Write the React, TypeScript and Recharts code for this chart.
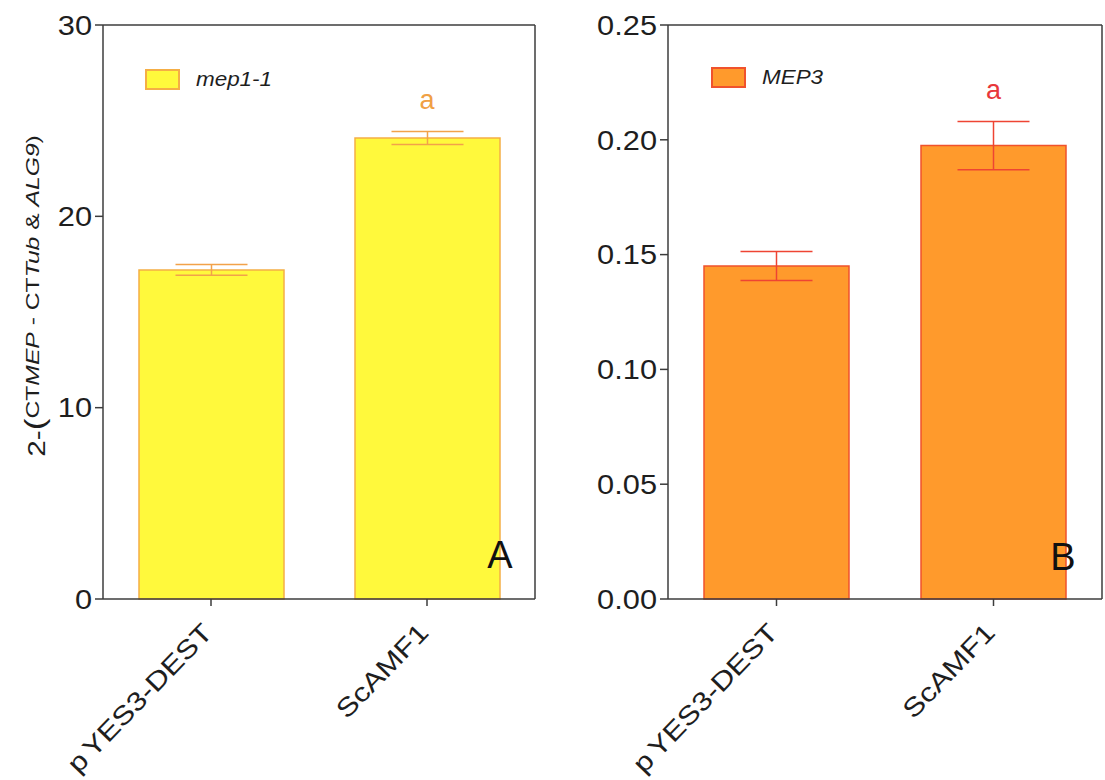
import React from 'react';
import { BarChart, Bar, XAxis, YAxis, ErrorBar, Legend, ReferenceDot, CartesianGrid } from 'recharts';

const categories = ['pYES3-DEST', 'ScAMF1'];
const mep11Values = [17.2, 24.1];
const mep11Errors = [0.28, 0.34];
const mep3Values = [0.145, 0.1975];
const mep3Errors = [0.0063, 0.0105];
const sigLetters = ['', 'a'];
const ticksA = [0, 10, 20, 30];
const ticksB = [0, 0.05, 0.1, 0.15, 0.2, 0.25];
const seriesNameA = 'mep1-1';
const seriesNameB = 'MEP3';

const dataA = categories.map((c, i) => ({ name: c, value: mep11Values[i], err: mep11Errors[i] }));
const dataB = categories.map((c, i) => ({ name: c, value: mep3Values[i], err: mep3Errors[i] }));

const FONT = '"Liberation Sans", Arial, Helvetica, sans-serif';
const AXIS = '#3c3c3c';
const TEXT = '#1e1e1e';

const YTick = (props: any) => {
  const { x, y, payload, fmt } = props;
  return (
    <g transform={`translate(${x},${y})`}>
      <text transform="scale(1.14,1)" textAnchor="end" dy="0.36em" fontSize={27} fill={TEXT} fontFamily={FONT}>
        {fmt(payload.value)}
      </text>
    </g>
  );
};

const XTick = (props: any) => {
  const { x, y, payload } = props;
  const label: string = String(payload.value);
  const first = label.startsWith('p') ? 'p' : '';
  const rest = first ? label.slice(1) : label;
  return (
    <g transform={`translate(${x + 3},${y + 26})`}>
      <text transform="rotate(-46) scale(1.2,1)" textAnchor="end" fontSize={26} fill={TEXT} fontFamily={FONT}>
        {first ? <tspan>{first}</tspan> : null}
        <tspan dx={first ? 4 : 0}>{rest}</tspan>
      </text>
    </g>
  );
};

const YLabelA = (props: any) => {
  const vb = props.viewBox || { x: 13, y: 25, width: 90, height: 574 };
  const cx = vb.x + 32;
  const cy = vb.y + vb.height / 2 - 16;
  return (
    <text transform={`translate(${cx},${cy}) rotate(-90) scale(1.3,1)`} textAnchor="middle" fill={TEXT} fontFamily={FONT} fontSize={22}>
      <tspan fontSize={23}>2-</tspan>
      <tspan fontSize={27} dy={-1}>(</tspan>
      <tspan fontSize={19} dy={-5}>
        CT<tspan fontStyle="italic">MEP</tspan> - CT<tspan fontStyle="italic">Tub</tspan> &amp; <tspan fontStyle="italic">ALG9</tspan>)
      </tspan>
    </text>
  );
};

const makeLegend = (fill: string, stroke: string) => (props: any) => {
  const p = props.payload && props.payload[0];
  return (
    <div style={{ display: 'flex', alignItems: 'center', fontFamily: FONT }}>
      <div style={{ width: 31, height: 17, background: fill, border: `2px solid ${stroke}` }} />
      <span style={{ marginLeft: 16, fontStyle: 'italic', fontSize: 19.5, color: TEXT, display: 'inline-block', transform: 'scale(1.15,1)', transformOrigin: 'left center' }}>
        {p ? p.value : ''}
      </span>
    </div>
  );
};

const sigLabel = (color: string, letter: string) => (props: any) => {
  const vb = props.viewBox || { x: 0, y: 0 };
  return (
    <text x={vb.x} y={vb.y - 22} textAnchor="middle" fontSize={27} fill={color} fontFamily={FONT}>
      {letter}
    </text>
  );
};

type PanelProps = {
  data: any[];
  values: number[];
  errors: number[];
  ticks: number[];
  fmt: (v: number) => string;
  name: string;
  fill: string;
  stroke: string;
  errColor: string;
  sigColor: string;
  width: number;
  margin: any;
  withYLabel: boolean;
  legendLeft: number;
  legendTop: number;
};

const Panel = (p: PanelProps) => {
  const max = p.ticks[p.ticks.length - 1];
  return (
    <BarChart width={p.width} height={780} data={p.data} margin={p.margin}>
      <CartesianGrid
        stroke={AXIS}
        strokeWidth={1.5}
        horizontalCoordinatesGenerator={(g: any) => [g.offset.top]}
        verticalCoordinatesGenerator={(g: any) => [g.offset.left + g.offset.width]}
      />
      <XAxis
        dataKey="name"
        stroke={AXIS}
        strokeWidth={1.5}
        tickSize={7}
        tickLine={{ stroke: AXIS, strokeWidth: 1.5 }}
        height={170}
        interval={0}
        tick={(tp: any) => <XTick {...tp} />}
      />
      <YAxis
        domain={[0, max]}
        ticks={p.ticks}
        width={90}
        stroke={AXIS}
        strokeWidth={1.5}
        tickSize={8}
        tickMargin={3}
        tickLine={{ stroke: AXIS, strokeWidth: 1.5 }}
        interval={0}
        tick={(tp: any) => <YTick {...tp} fmt={p.fmt} />}
        label={p.withYLabel ? (lp: any) => <YLabelA {...lp} /> : undefined}
      />
      <Legend
        layout="vertical"
        align="center"
        verticalAlign="middle"
        wrapperStyle={{ left: p.legendLeft, top: p.legendTop, width: 200, height: 24 }}
        content={makeLegend(p.fill, p.stroke)}
      />
      <Bar dataKey="value" name={p.name} fill={p.fill} stroke={p.stroke} strokeWidth={1.5} barSize={145} isAnimationActive={false}>
        <ErrorBar dataKey="err" width={36} stroke={p.errColor} strokeWidth={1.5} direction="y" />
      </Bar>
      {categories.map((c, i) =>
        sigLetters[i] ? (
          <ReferenceDot
            key={c}
            x={c}
            y={p.values[i] + p.errors[i]}
            r={0}
            fill="none"
            stroke="none"
            ifOverflow="visible"
            label={sigLabel(p.sigColor, sigLetters[i])}
          />
        ) : null
      )}
    </BarChart>
  );
};

export default function App() {
  return (
    <div style={{ position: 'absolute', left: 0, top: 0, width: 1105, height: 780, background: '#fff', fontFamily: FONT }}>
      <div style={{ position: 'absolute', left: 0, top: 0 }}>
        <Panel
          data={dataA}
          values={mep11Values}
          errors={mep11Errors}
          ticks={ticksA}
          fmt={(v) => String(v)}
          name={seriesNameA}
          fill="#FFF93C"
          stroke="#F5AE45"
          errColor="#F2A24A"
          sigColor="#F0A044"
          width={560}
          margin={{ top: 25, right: 25, bottom: 11, left: 13 }}
          withYLabel={true}
          legendLeft={145}
          legendTop={68}
        />
      </div>
      <div style={{ position: 'absolute', left: 560, top: 0 }}>
        <Panel
          data={dataB}
          values={mep3Values}
          errors={mep3Errors}
          ticks={ticksB}
          fmt={(v) => v.toFixed(2)}
          name={seriesNameB}
          fill="#FF9A2C"
          stroke="#F0522C"
          errColor="#EE4433"
          sigColor="#E8373A"
          width={545}
          margin={{ top: 25, right: 3, bottom: 11, left: 18 }}
          withYLabel={false}
          legendLeft={151}
          legendTop={66}
        />
      </div>
      <svg width={1105} height={780} style={{ position: 'absolute', left: 0, top: 0, pointerEvents: 'none' }}>
        <text x={500} y={568} textAnchor="middle" fontSize={38} fill="#111" fontFamily={FONT}>A</text>
        <text x={1063} y={570} textAnchor="middle" fontSize={38} fill="#111" fontFamily={FONT}>B</text>
      </svg>
    </div>
  );
}
